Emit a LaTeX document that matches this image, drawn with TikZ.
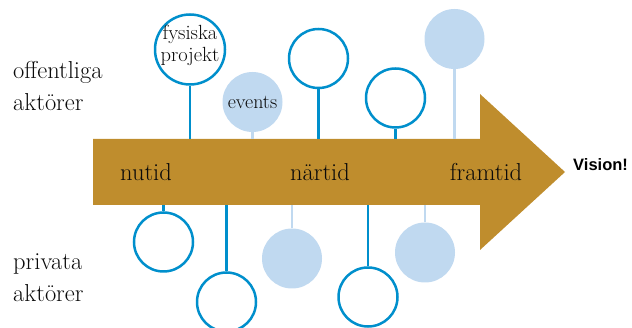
\documentclass[tikz,border=0pt]{standalone}
\usepackage{fontspec}
\newfontfamily\visionfont{Liberation Sans}
\definecolor{gold}{RGB}{191,141,45}
\definecolor{bluel}{RGB}{0,143,204}
\definecolor{lightb}{RGB}{192,217,240}
\definecolor{ink}{RGB}{10,10,10}
\begin{document}
\begin{tikzpicture}[x=1pt,y=-1pt,
  hollow/.style={circle,draw=bluel,line width=2.5pt,fill=white,minimum size=59pt,inner sep=0pt},
  filled/.style={circle,fill=lightb,minimum size=60pt,inner sep=0pt},
  stemd/.style={draw=bluel,line width=2.5pt},
  stemf/.style={draw=lightb,line width=2.5pt},
  side/.style={font=\fontsize{24.5}{32}\selectfont,text=ink,align=left,anchor=base west,inner sep=0pt},
  time/.style={font=\fontsize{24.5}{28}\selectfont,text=ink,anchor=base,inner sep=0pt},
  inlbl/.style={font=\fontsize{20.5}{22}\selectfont,text=ink,align=center,inner sep=0pt}]
\useasboundingbox (0,0) rectangle (632,328);
% arrow
\fill[gold] (93,139) -- (480,139) -- (480,94) -- (565,172) -- (480,250) -- (480,205) -- (93,205) -- cycle;
\coordinate (top) at (93,139);
\coordinate (bot) at (93,205);
% top circles
\node[hollow,minimum size=70pt,inner sep=0pt] (A) at (190,49.5) {};
\node[inlbl,anchor=base] (At) at (190,40) {fysiska};
\node[inlbl,anchor=base] (Ab) at (190,61.5) {projekt};
\node[filled] (B) at (252.5,102) {};
\node[inlbl,font=\fontsize{20}{22}\selectfont,anchor=base] (Bt) at (252.5,108.5) {events};
\node[hollow] (C) at (318.5,58.5) {};
\node[hollow] (D) at (395.5,98) {};
\node[filled] (E) at (454.5,39) {};
% bottom circles
\node[hollow] (F) at (163.5,242) {};
\node[hollow] (G) at (226.5,302) {};
\node[filled] (H) at (292,258.5) {};
\node[hollow] (I) at (368,297) {};
\node[filled] (J) at (425,252.5) {};
% stems
\draw[stemd] (A.south) -- (A.south |- top);
\draw[stemf] (B.south) -- (B.south |- top);
\draw[stemd] (C.south) -- (C.south |- top);
\draw[stemd] (D.south) -- (D.south |- top);
\draw[stemf] (E.south) -- (E.south |- top);
\draw[stemd] (F.north) -- (F.north |- bot);
\draw[stemd] (G.north) -- (G.north |- bot);
\draw[stemf] (H.north) -- (H.north |- bot);
\draw[stemd] (I.north) -- (I.north |- bot);
\draw[stemf] (J.north) -- (J.north |- bot);
% labels
\node[side] (pub) at (13,111) {offentliga\\aktörer};
\node[side] (priv) at (13,302) {privata\\aktörer};
\node[time] (t1) at (146,181) {nutid};
\node[time] (t2) at (320,181) {närtid};
\node[time] (t3) at (486,181) {framtid};
\node[font=\visionfont\bfseries\fontsize{16.5}{18}\selectfont,text=black,anchor=base west,inner sep=0pt] (vis) at (573,171) {Vision!};
\end{tikzpicture}
\end{document}
